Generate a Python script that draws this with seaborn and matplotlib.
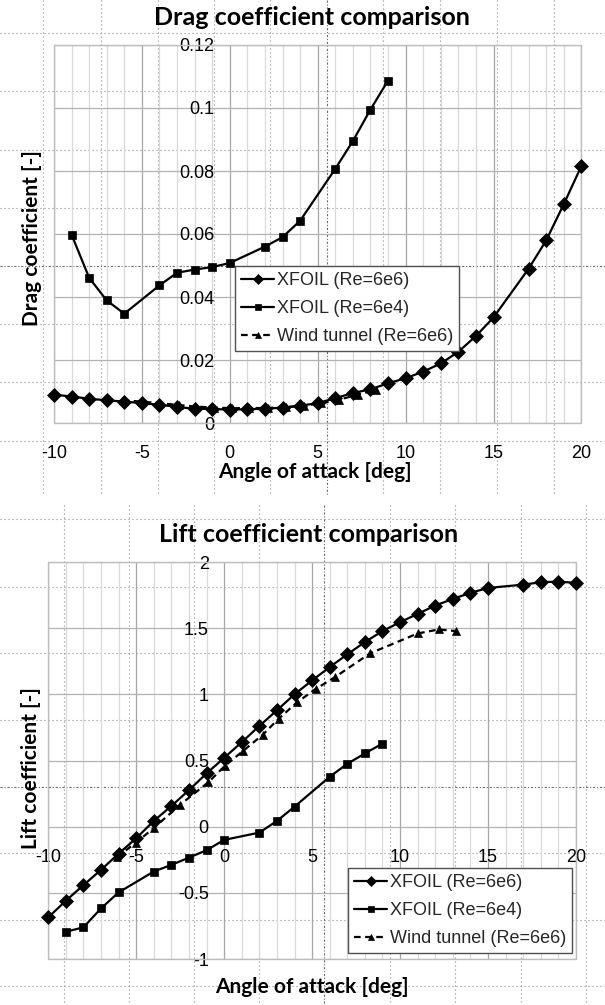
import numpy as np
import pandas as pd
import matplotlib
matplotlib.use("Agg")
import matplotlib.pyplot as plt
from matplotlib.lines import Line2D
from matplotlib.patches import Rectangle
from matplotlib.ticker import FuncFormatter, MultipleLocator
import seaborn as sns

# ---------------- data ----------------
aoa_6e6 = [-10, -9, -8, -7, -6, -5, -4, -3, -2, -1, 0, 1, 2, 3, 4, 5, 6, 7, 8, 9,
           10, 11, 12, 13, 14, 15, 17, 18, 19, 20]
cd_6e6 = [0.0090, 0.0084, 0.0077, 0.0072, 0.0068, 0.0063, 0.0058, 0.0051, 0.0045, 0.0045,
          0.0042, 0.0044, 0.0045, 0.0049, 0.0055, 0.0063, 0.0079, 0.0095, 0.0107, 0.0126,
          0.0142, 0.0163, 0.0189, 0.0226, 0.0276, 0.0335, 0.0490, 0.0580, 0.0695, 0.0816]
cl_6e6 = [-0.686, -0.56, -0.442, -0.327, -0.204, -0.088, 0.043, 0.156, 0.276, 0.402,
          0.52, 0.638, 0.761, 0.879, 1.0, 1.105, 1.206, 1.302, 1.395, 1.478,
          1.545, 1.608, 1.671, 1.721, 1.767, 1.804, 1.829, 1.847, 1.852, 1.842]

aoa_6e4 = [-9, -8, -7, -6, -4, -3, -2, -1, 0, 2, 3, 4, 6, 7, 8, 9]
cd_6e4 = [0.0598, 0.0461, 0.0389, 0.0347, 0.0437, 0.0477, 0.0487, 0.0495, 0.0508,
          0.0560, 0.0590, 0.0642, 0.0807, 0.0895, 0.0995, 0.1087]
cl_6e4 = [-0.794, -0.761, -0.618, -0.497, -0.339, -0.289, -0.234, -0.178, -0.10,
          -0.045, 0.043, 0.151, 0.377, 0.475, 0.553, 0.628]

aoa_wt_cd = [-6.1, -5.0, -4.0, -2.9, -1.9, -0.9, 0.1, 1.1, 2.2, 3.2, 4.2, 5.2, 6.2, 7.3, 8.3]
cd_wt = [0.0072, 0.0068, 0.0063, 0.0057, 0.0052, 0.0049, 0.0047, 0.0047, 0.0048,
         0.0050, 0.0055, 0.0062, 0.0074, 0.0090, 0.0105]
aoa_wt_cl = [-6.1, -5.0, -4.0, -2.5, -0.9, 0.05, 1.1, 2.2, 3.1, 4.15, 5.2, 6.3, 8.3,
             11.0, 12.2, 13.2]
cl_wt = [-0.23, -0.12, -0.01, 0.166, 0.335, 0.46, 0.575, 0.695, 0.816, 0.94, 1.04,
         1.13, 1.31, 1.46, 1.49, 1.478]

labels = ["XFOIL (Re=6e6)", "XFOIL (Re=6e4)", "Wind tunnel (Re=6e6)"]
titles = ["Drag coefficient comparison", "Lift coefficient comparison"]
ylabels = ["Drag coefficient [-]", "Lift coefficient [-]"]
xlabel = "Angle of attack [deg]"

# ---------------- style ----------------
sns.set_theme(style="white")
plt.rcParams["font.family"] = ["Liberation Sans", "DejaVu Sans"]
plt.rcParams["axes.unicode_minus"] = False

W, H = 605, 1005
fig = plt.figure(figsize=(W / 100, H / 100), dpi=100)
fig.patch.set_facecolor("white")


def fx(px):
    return px / W


def fy(py):
    return 1 - py / H


# page (drawing) grid, dotted
def page_grid(xs, ys, y0, y1, xdark, ydark):
    for x in xs:
        dark = abs(x - xdark) < 1
        fig.add_artist(Line2D([fx(x), fx(x)], [fy(y0), fy(y1)],
                              color="#6a6a6a" if dark else "#8c8c8c", lw=0.8,
                              linestyle=(0, (2, 1.6, 1, 1.6)) if dark else (0, (1, 2.6)),
                              zorder=0))
    for y in ys:
        dark = abs(y - ydark) < 1
        fig.add_artist(Line2D([0, 1], [fy(y), fy(y)],
                              color="#6a6a6a" if dark else "#8c8c8c", lw=0.8,
                              linestyle=(0, (2, 1.6, 1, 1.6)) if dark else (0, (1, 2.6)),
                              zorder=0))


page_grid([43, 101, 158, 214, 270, 327, 383, 440, 497, 554],
          [33, 91, 150, 208, 266, 324, 382, 441], 0, 495, 327, 266)
page_grid([64, 129, 194, 259, 324, 390, 455, 521, 586],
          [519, 587, 653, 720, 787, 853, 920, 986], 505, 1005, 324, 787)

ax1 = fig.add_axes([fx(54), fy(423), fx(581.4) - fx(54), (423 - 45) / H])
ax2 = fig.add_axes([fx(48.2), fy(959), fx(576) - fx(48.2), (959 - 562) / H])

line_kw = dict(color="black", linewidth=1.6, clip_on=False, markeredgewidth=0.5,
               markeredgecolor="black", markerfacecolor="black")


def draw(ax, x1, y1, x2, y2, x3, y3):
    sns.lineplot(x=x3, y=y3, ax=ax, marker="^", markersize=5.5,
                 linestyle=(0, (3, 2)), label=labels[2], sort=False, estimator=None, **line_kw)
    sns.lineplot(x=x2, y=y2, ax=ax, marker="s", markersize=6,
                 label=labels[1], sort=False, estimator=None, **line_kw)
    sns.lineplot(x=x1, y=y1, ax=ax, marker="D", markersize=7,
                 label=labels[0], sort=False, estimator=None, **line_kw)


draw(ax1, aoa_6e6, cd_6e6, aoa_6e4, cd_6e4, aoa_wt_cd, cd_wt)
draw(ax2, aoa_6e6, cl_6e6, aoa_6e4, cl_6e4, aoa_wt_cl, cl_wt)

fmt = FuncFormatter(lambda v, p: f"{v:g}")
for ax, ylim, ystep in [(ax1, (0, 0.12), 0.02), (ax2, (-1, 2), 0.5)]:
    ax.set_facecolor("none")
    ax.set_xlim(-10, 20)
    ax.set_ylim(*ylim)
    ax.xaxis.set_major_locator(MultipleLocator(5))
    ax.xaxis.set_minor_locator(MultipleLocator(1))
    ax.yaxis.set_major_locator(MultipleLocator(ystep))
    ax.xaxis.set_major_formatter(fmt)
    ax.yaxis.set_major_formatter(fmt)
    ax.grid(which="major", axis="x", color="#a6a6a6", lw=0.9)
    ax.grid(which="minor", axis="x", color="#d9d9d9", lw=0.9)
    ax.grid(which="major", axis="y", color="#b3b3b3", lw=0.9)
    ax.set_axisbelow(True)
    for s in ax.spines.values():
        s.set_visible(False)
    ax.spines["left"].set_position(("data", 0))
    ax.spines["bottom"].set_position(("data", 0))
    ax.tick_params(which="both", length=0, labelsize=13, colors="black")
    ax.tick_params(axis="y", pad=11)
    ax.tick_params(axis="x", pad=16)
    for t in ax.get_xticklabels() + ax.get_yticklabels():
        t.set_fontfamily("Liberation Sans")
    ax.add_patch(Rectangle((0, 0), 1, 1, transform=ax.transAxes, fill=False,
                           edgecolor="#bdbdbd", lw=1.0, zorder=1, clip_on=False))
    ax.set_xlabel("")
    ax.set_ylabel("")
    if ax.get_legend():
        ax.get_legend().remove()

# titles and axis labels
tkw = dict(family=["Lato", "DejaVu Sans"], fontweight="bold", color="black",
           ha="center", va="center")
fig.text(fx(312), fy(17.5), titles[0], fontsize=18, **tkw)
fig.text(fx(309), fy(535), titles[1], fontsize=18, **tkw)
fig.text(fx(315), fy(472), xlabel, fontsize=15, **tkw)
fig.text(fx(312), fy(986.5), xlabel, fontsize=15, **tkw)
fig.text(fx(32), fy(238), ylabels[0], fontsize=15, rotation=90, **tkw)
fig.text(fx(31), fy(768), ylabels[1], fontsize=15, rotation=90, **tkw)

# legends
for ax, (lx, ly) in [(ax1, (235, 266)), (ax2, (348, 868))]:
    h, l = ax.get_legend_handles_labels()
    order = [l.index(lab) for lab in labels]
    leg = ax.legend([h[i] for i in order], [l[i] for i in order],
                    loc="upper left", bbox_to_anchor=(fx(lx), fy(ly)),
                    bbox_transform=fig.transFigure, borderaxespad=0,
                    frameon=True, fancybox=False, shadow=False, framealpha=1,
                    edgecolor="#505050", facecolor="white",
                    prop={"family": "Liberation Sans", "size": 13},
                    handlelength=1.8, handletextpad=0.15, labelspacing=0.6,
                    borderpad=0.35, markerscale=0.8)
    leg.get_frame().set_linewidth(1.0)

fig.savefig("out.png", dpi=100, facecolor="white")
